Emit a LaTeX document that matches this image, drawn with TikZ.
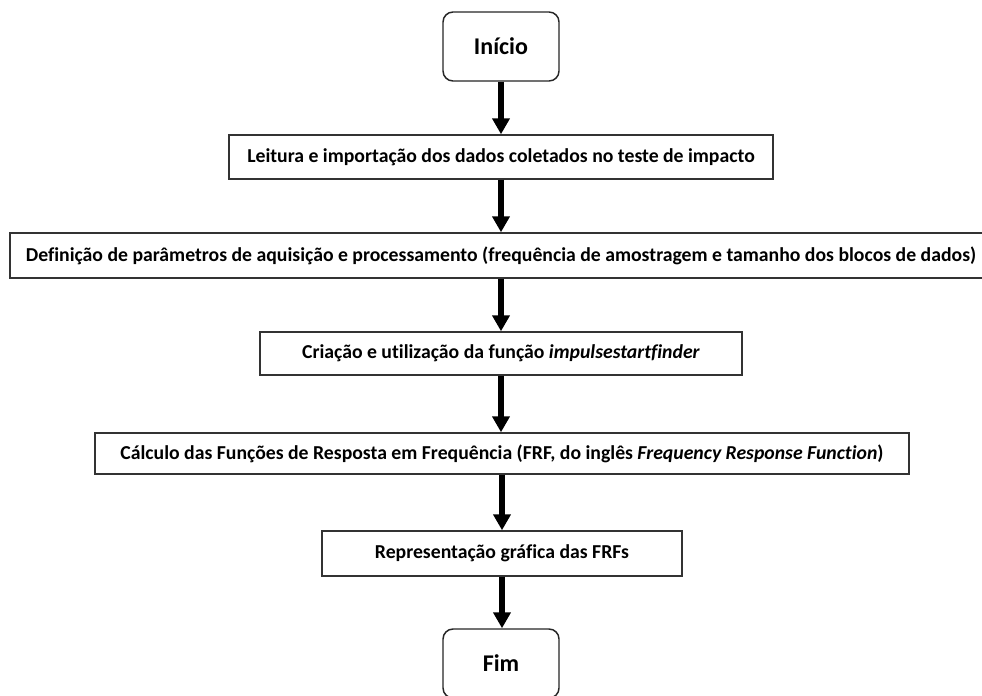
\documentclass[tikz,border=0pt]{standalone}
\usepackage{fontspec}
\setmainfont{Carlito}[Ligatures=NoCommon]
\usetikzlibrary{arrows.meta}
\begin{document}
\begin{tikzpicture}[x=0.75pt,y=-0.75pt,
  stepbox/.style={draw=black!80, line width=1.1pt, fill=white, rectangle, inner sep=0pt, font=\fontsize{14.8}{17}\selectfont\bfseries},
  termbox/.style={draw=black!85, line width=1.1pt, fill=white, rectangle, rounded corners=7.5pt, inner sep=0pt, minimum width=87pt, minimum height=51.75pt, font=\fontsize{18}{21}\selectfont\bfseries},
  flow/.style={line width=4.5pt, -{Triangle[width=12.75pt,length=12pt]}}]
\useasboundingbox (0,0) rectangle (982,696);
\node[termbox] (start) at (501,46.5) {Início};
\node[stepbox, minimum width=408pt, minimum height=33pt] (b1) at (501,157) {Leitura e importação dos dados coletados no teste de impacto};
\node[stepbox, minimum width=736.5pt, minimum height=33.75pt] (b2) at (501,255.5) {Definição de parâmetros de aquisição e processamento (frequência de amostragem e tamanho dos blocos de dados)};
\node[stepbox, minimum width=361.5pt, minimum height=32.25pt] (b3) at (501,353.5) {Criação e utilização da função \textit{impulsestartfinder}};
\node[stepbox, minimum width=610.5pt, minimum height=30.75pt] (b4) at (502,453.5) {Cálculo das Funções de Resposta em Frequência (FRF, do inglês \textit{Frequency Response Function})};
\node[stepbox, minimum width=270pt, minimum height=33.75pt] (b5) at (502,553.5) {Representação gráfica das FRFs};
\node[termbox] (end) at (501,663.5) {Fim};
\draw[flow] (start.south) -- (start.south |- b1.north);
\draw[flow] (b1.south) -- (b1.south |- b2.north);
\draw[flow] (b2.south) -- (b2.south |- b3.north);
\draw[flow] (b3.south) -- (b3.south |- b4.north);
\draw[flow] (b4.south) -- (b4.south |- b5.north);
\draw[flow] (b5.south) -- (b5.south |- end.north);
\end{tikzpicture}
\end{document}
